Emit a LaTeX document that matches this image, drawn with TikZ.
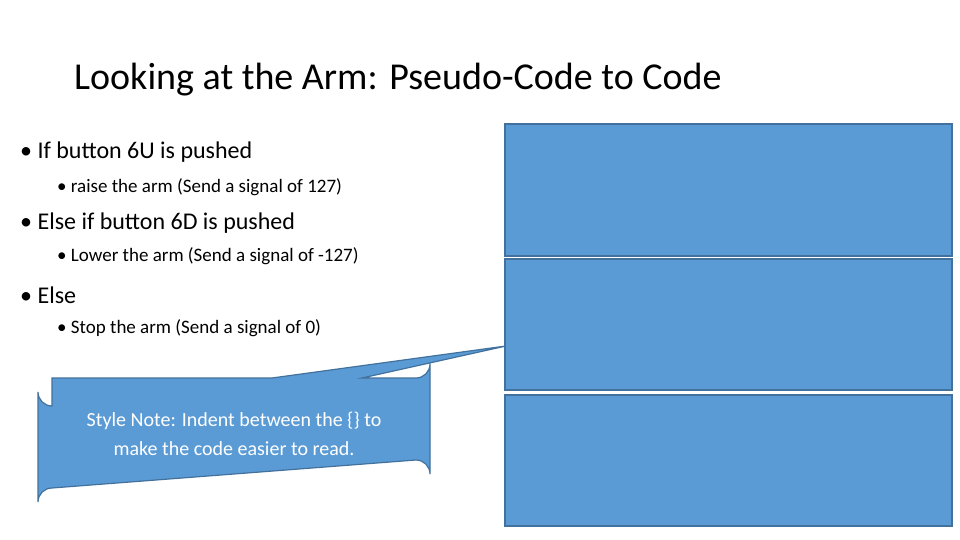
\documentclass[tikz,border=0pt]{standalone}
\usepackage{fontspec}
\setmainfont{Carlito}
\usetikzlibrary{positioning}
\definecolor{boxblue}{HTML}{5B9BD5}
\definecolor{boxline}{HTML}{41719C}
\tikzset{%
  panel/.style={draw=boxline,line width=1.2pt,fill=boxblue},
  bul/.style={anchor=west,inner sep=0pt,font=\fontsize{24}{28}\selectfont},
  subbul/.style={anchor=west,inner sep=0pt,font=\fontsize{19}{23}\selectfont}
}
\begin{document}
\begin{tikzpicture}[x=1pt,y=-1pt]
  \useasboundingbox (0,0) rectangle (960,540);
  \node[anchor=west,inner sep=0pt,font=\fontsize{38}{44}\selectfont] (title) at (74,80) {Looking at the Arm: Pseudo-Code to Code};
  % bullets
  \node[bul] (b1) at (20,152) {\textbullet\ If button 6U is pushed};
  \node[subbul] (s1) at (57,187) {\textbullet\ raise the arm (Send a signal of 127)};
  \node[bul] (b2) at (20,223) {\textbullet\ Else if button 6D is pushed};
  \node[subbul] (s2) at (57,256) {\textbullet\ Lower the arm (Send a signal of -127)};
  \node[bul] (b3) at (20,295) {\textbullet\ Else};
  \node[subbul] (s3) at (57,328) {\textbullet\ Stop the arm (Send a signal of 0)};
  % code panels
  \draw[panel] (505,124) rectangle (952,256);
  \draw[panel] (505,259) rectangle (952,390);
  \draw[panel] (505,395) rectangle (952,526);
  % callout
  \coordinate (tip) at (506,346);
  \draw[panel] (52,378) -- (272,378) -- (tip) -- (362,378) -- (416,378)
    arc[start angle=90,end angle=0,radius=14] -- (430,474)
    arc[start angle=0,end angle=-90,radius=14] -- (52,488)
    arc[start angle=270,end angle=180,radius=14] -- (38,392)
    arc[start angle=180,end angle=90,radius=14] -- cycle;
  \node[text=white,align=center,font=\fontsize{20}{29}\selectfont] (note) at (234,434)
    {Style Note: Indent between the \{\} to\\make the code easier to read.};
\end{tikzpicture}
\end{document}
